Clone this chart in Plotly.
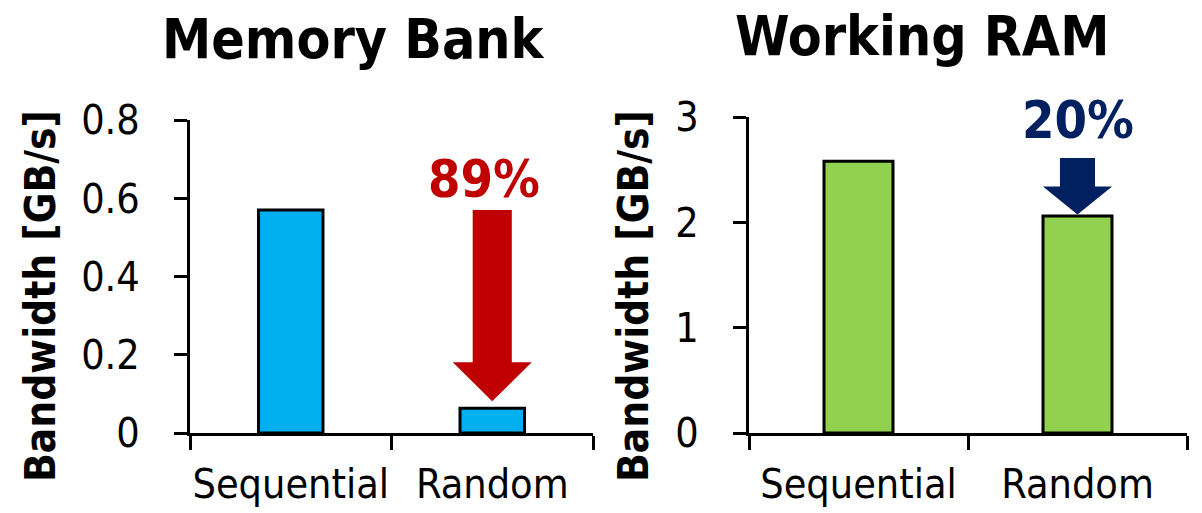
import plotly.graph_objects as go

# ---- data -------------------------------------------------------------
categories = ["Sequential", "Random"]
bank_bw = [0.57, 0.063]          # Memory Bank bandwidth, GB/s
ram_bw = [2.58, 2.06]            # Working RAM bandwidth, GB/s
bank_ticks = [0, 0.2, 0.4, 0.6, 0.8]
ram_ticks = [0, 1, 2, 3]
panel_titles = ["Memory Bank", "Working RAM"]
y_title = "Bandwidth [GB/s]"

# ---- styling ----------------------------------------------------------
W, H = 1202, 513
FONT = "DejaVu Sans Condensed, DejaVu Sans, sans-serif"
BLUE, GREEN = "#00B0F0", "#92D050"
RED, NAVY = "#C00000", "#002060"

pos = list(range(len(categories)))
bounds = [p - 0.5 for p in pos] + [pos[-1] + 0.5]


def px_x(p):
    return p / W


def px_y(p):
    return 1 - p / H


fig = go.Figure()
fig.add_trace(go.Bar(x=pos, y=bank_bw, width=0.32, xaxis="x", yaxis="y",
                     marker=dict(color=BLUE, line=dict(color="black", width=3)),
                     showlegend=False, hoverinfo="skip"))
fig.add_trace(go.Bar(x=pos, y=ram_bw, width=0.315, xaxis="x2", yaxis="y2",
                     marker=dict(color=GREEN, line=dict(color="black", width=3)),
                     showlegend=False, hoverinfo="skip"))


def xaxis(domain, anchor):
    return dict(domain=domain, anchor=anchor, range=[bounds[0], bounds[-1]],
                tickmode="array", tickvals=pos, ticktext=categories, ticks="",
                ticklabelstandoff=13,
                minor=dict(tickmode="array", tickvals=bounds, ticks="outside",
                           ticklen=14, tickwidth=3, tickcolor="black"),
                showline=True, linewidth=3, linecolor="black",
                showgrid=False, zeroline=False, automargin=False,
                tickfont=dict(family=FONT, size=41, color="black"))


def yaxis(domain, anchor, rng, ticks):
    return dict(domain=domain, anchor=anchor, range=rng,
                tickmode="array", tickvals=ticks, ticktext=[f"{t:g}" for t in ticks],
                ticks="outside", ticklen=13, tickwidth=3, tickcolor="black",
                ticklabelstandoff=26,
                showline=True, linewidth=3, linecolor="black",
                showgrid=False, zeroline=False, automargin=False,
                tickfont=dict(family=FONT, size=41, color="black"))


fig.update_layout(
    width=W, height=H,
    margin=dict(l=0, r=0, t=0, b=0),
    paper_bgcolor="white", plot_bgcolor="white",
    template="none",
    xaxis=xaxis([px_x(190), px_x(593)], "y"),
    yaxis=yaxis([px_y(433), px_y(120)], "x", [0, 0.8], bank_ticks),
    xaxis2=xaxis([px_x(749), px_x(1187)], "y2"),
    yaxis2=yaxis([px_y(433), px_y(117)], "x2", [0, 3], ram_ticks),
)


def drop_arrow(xref, yref, cx, top, tip, head, sw, hw, color):
    ht = tip + head
    path = (f"M {cx - sw},{top} L {cx + sw},{top} L {cx + sw},{ht} "
            f"L {cx + hw},{ht} L {cx},{tip} L {cx - hw},{ht} L {cx - sw},{ht} Z")
    fig.add_shape(type="path", path=path, xref=xref, yref=yref,
                  fillcolor=color, line=dict(width=0))


# arrows from the sequential level down to the random bar
drop_arrow("x", "y", pos[1], bank_bw[0], bank_bw[1] + 0.018, 0.1, 0.097, 0.196, RED)
drop_arrow("x2", "y2", pos[1], ram_bw[0] + 0.03, ram_bw[1] + 0.015, 0.266, 0.08, 0.158, NAVY)


def pct_drop(vals):
    return f"{round((1 - vals[1] / vals[0]) * 100)}%"


fig.add_annotation(x=pos[1], y=bank_bw[0], xref="x", yref="y", yanchor="bottom",
                   text=pct_drop(bank_bw), showarrow=False, xshift=-8, yshift=-1,
                   font=dict(family=FONT, size=52, color=RED, weight="bold"))
fig.add_annotation(x=pos[1], y=ram_bw[0] + 0.03, xref="x2", yref="y2", yanchor="bottom",
                   text=pct_drop(ram_bw), showarrow=False, yshift=6,
                   font=dict(family=FONT, size=52, color=NAVY, weight="bold"))

# panel titles
for title, cx, cy in zip(panel_titles, [353, 922], [39, 36]):
    fig.add_annotation(x=px_x(cx), y=px_y(cy), xref="paper", yref="paper",
                       text=title, showarrow=False, xanchor="center", yanchor="middle",
                       font=dict(family=FONT, size=55, color="black", weight="bold"))

# rotated y-axis titles
for cx, cy in [(40, 296), (633, 296)]:
    fig.add_annotation(x=px_x(cx), y=px_y(cy), xref="paper", yref="paper",
                       text=y_title, showarrow=False, textangle=-90,
                       xanchor="center", yanchor="middle",
                       font=dict(family=FONT, size=42, color="black", weight="bold"))

fig.write_html("out.html")
